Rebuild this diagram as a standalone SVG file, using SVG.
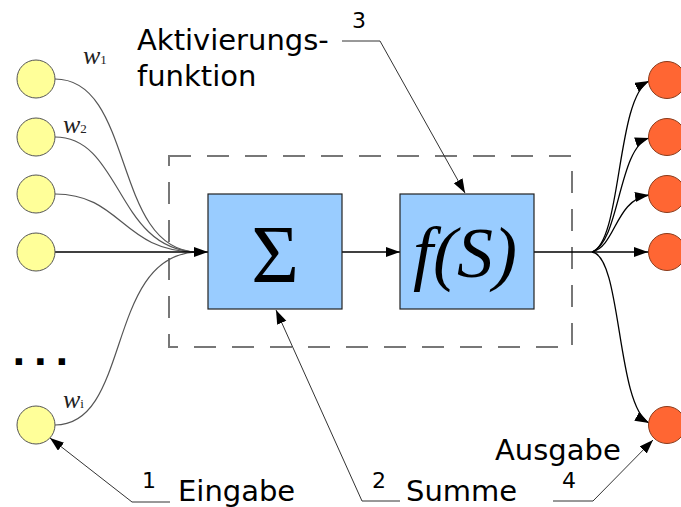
<svg xmlns="http://www.w3.org/2000/svg" width="681" height="507" viewBox="0 0 681 507">
<style>
.lbl{font-family:"DejaVu Sans","Liberation Sans",sans-serif;font-size:29px;fill:#000}
.num{font-family:"DejaVu Sans","Liberation Sans",sans-serif;font-size:22px;fill:#000}
.w{font-family:"Liberation Serif","DejaVu Serif",serif;font-style:italic;font-size:26px;fill:#222}
.sub{font-family:"Liberation Serif","DejaVu Serif",serif;font-size:13px;font-style:normal}
.in{fill:#ffff99;stroke:#555;stroke-width:1}
.out{fill:#ff6633;stroke:#8a3a1a;stroke-width:1}
.box{fill:#99ccff;stroke:#222;stroke-width:1.2}
.wire{fill:none;stroke:#555;stroke-width:1.2}
.bw{fill:none;stroke:#000;stroke-width:1.3}
.lead{fill:none;stroke:#333;stroke-width:1}
</style>
<defs>
<marker id="ah" markerUnits="userSpaceOnUse" markerWidth="16" markerHeight="12" refX="14" refY="5" orient="auto">
<path d="M0,0 L14,5 L0,10 z" fill="#000"/>
</marker>
</defs>
<rect id="group-box" x="169" y="156" width="403" height="191" fill="none" stroke="#777" stroke-width="2" stroke-dasharray="22 16"/>
<g id="connectors">
<path class="wire" d="M55,79 C135,79 112,250 197,252"/>
<path class="wire" d="M55,137 C122,137 116,250 197,252"/>
<path class="wire" d="M55,194 C122,194 122,252 197,252"/>
<path class="wire" d="M55,425 C132,425 105,255 197,252"/>
<path class="bw" d="M55,252 H208" marker-end="url(#ah)"/>
<path class="bw" d="M342,252 H400" marker-end="url(#ah)"/>
<path class="bw" d="M534,252 H648" marker-end="url(#ah)"/>
<path class="bw" d="M592,252 C622,242 616,98 649,81" marker-end="url(#ah)"/>
<path class="bw" d="M592,252 C620,242 618,148 649,138" marker-end="url(#ah)"/>
<path class="bw" d="M592,252 C616,246 615,200 649,195" marker-end="url(#ah)"/>
<path class="bw" d="M592,252 C622,256 616,405 649,423" marker-end="url(#ah)"/>
<path class="lead" d="M342,41 H380 L465,193" marker-end="url(#ah)"/>
<path class="lead" d="M170,502 H132 L50,438" marker-end="url(#ah)"/>
<path class="lead" d="M400,501 H362 L276,310" marker-end="url(#ah)"/>
<path class="lead" d="M553,501 H593 L653,440" marker-end="url(#ah)"/>
</g>
<g id="input-1"><circle class="in" cx="36" cy="79" r="19"/></g>
<g id="input-2"><circle class="in" cx="36" cy="137" r="19"/></g>
<g id="input-3"><circle class="in" cx="36" cy="194" r="19"/></g>
<g id="input-4"><circle class="in" cx="36" cy="252" r="19"/></g>
<g id="input-i"><circle class="in" cx="36" cy="425" r="19"/></g>
<g id="output-1"><circle class="out" cx="667" cy="80" r="18.5"/></g>
<g id="output-2"><circle class="out" cx="667" cy="137" r="18.5"/></g>
<g id="output-3"><circle class="out" cx="667" cy="194" r="18.5"/></g>
<g id="output-4"><circle class="out" cx="667" cy="252" r="18.5"/></g>
<g id="output-5"><circle class="out" cx="667" cy="425" r="18.5"/></g>
<g id="sum">
<rect class="box" x="208" y="194" width="134" height="115"/>
<text x="275" y="282" text-anchor="middle" font-family="Liberation Serif, DejaVu Serif, serif" font-size="82" fill="#000">Σ</text>
</g>
<g id="activation">
<rect class="box" x="400" y="194" width="134" height="115"/>
<text x="465" y="277" text-anchor="middle" font-family="Liberation Serif, DejaVu Serif, serif" font-style="italic" font-size="72" fill="#000">f(S)</text>
</g>
<g id="weights">
<text class="w" x="83" y="64">w<tspan class="sub">1</tspan></text>
<text class="w" x="63" y="133">w<tspan class="sub">2</tspan></text>
<text class="w" x="63" y="408">w<tspan class="sub" font-style="italic">i</tspan></text>
</g>
<g id="ellipsis">
<text x="12" y="365" font-family="DejaVu Sans, sans-serif" font-weight="bold" font-size="36" letter-spacing="7.8" fill="#000">...</text>
</g>
<g id="labels">
<text class="lbl" x="137" y="50">Aktivierungs-</text>
<text class="lbl" x="137" y="86">funktion</text>
<text class="num" x="352" y="28">3</text>
<text class="num" x="142" y="488">1</text>
<text class="lbl" x="178" y="501">Eingabe</text>
<text class="num" x="372" y="488">2</text>
<text class="lbl" x="406" y="501">Summe</text>
<text class="lbl" x="495" y="460">Ausgabe</text>
<text class="num" x="562" y="488">4</text>
</g>
</svg>
